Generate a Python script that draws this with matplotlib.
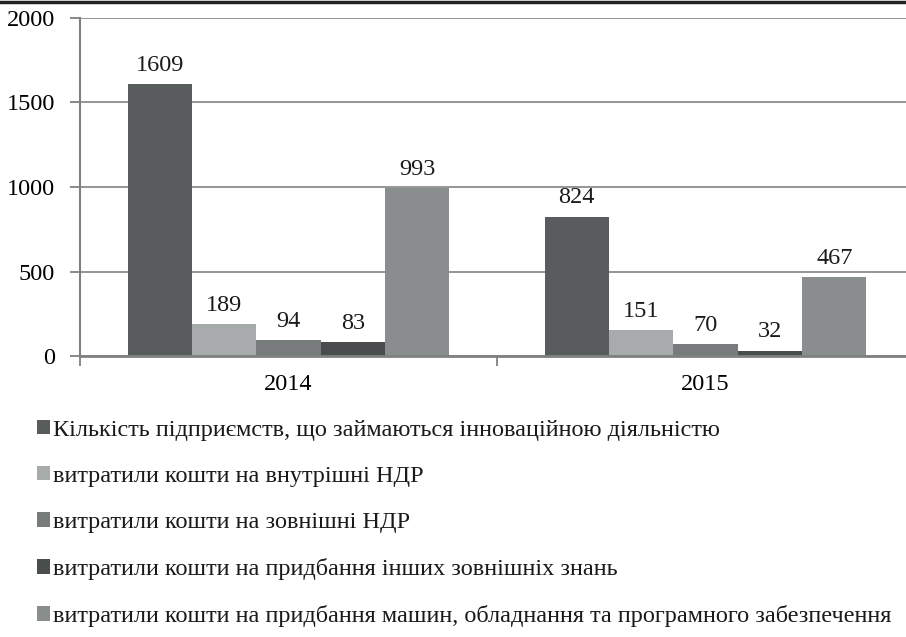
import numpy as np
import matplotlib.pyplot as plt
from matplotlib.patches import Patch

plt.rcParams['font.family'] = ['Liberation Serif', 'DejaVu Serif']

years = ['2014', '2015']
series_names = [
    'Кількість підприємств, що займаються інноваційною діяльністю',
    'витратили кошти на внутрішні НДР',
    'витратили кошти на зовнішні НДР',
    'витратили кошти на придбання інших зовнішніх знань',
    'витратили кошти на придбання машин, обладнання та програмного забезпечення',
]
values = [
    [1609, 824],
    [189, 151],
    [94, 70],
    [83, 32],
    [993, 467],
]
colors = ['#595c5c', '#a8abab', '#787b7c', '#4a4d4e', '#8a8d8d']

W, H = 906, 637
fig = plt.figure(figsize=(W / 100, H / 100), dpi=100)
ax = fig.add_axes([80 / W, 1 - 356 / H, 834 / W, 338 / H])

fs = 17.5
n = len(series_names)
bw = 0.772 / n
x = np.arange(len(years))
for i in range(n):
    pos = x - 0.386 + bw * (i + 0.5)
    bars = ax.bar(pos, values[i], width=bw, color=colors[i], zorder=3)
    for b, v in zip(bars, values[i]):
        ax.annotate(str(v), (b.get_x() + b.get_width() / 2, v),
                    xytext=(0, 6), textcoords='offset points',
                    ha='center', va='bottom', fontsize=fs, color='#1a1a1a')

ax.set_xlim(-0.5, 1.5)
ax.set_ylim(0, 2000)
ax.set_yticks([0, 500, 1000, 1500, 2000])
ax.yaxis.grid(True, color='#8c8c8c', linewidth=1.3, zorder=0)
ax.set_axisbelow(True)

ax.set_xticks([-0.5, 0.5, 1.5])
ax.set_xticklabels([])
ax.set_xticks(x, minor=True)
ax.set_xticklabels(years, minor=True)
ax.tick_params(axis='x', which='minor', length=0, pad=13, labelsize=fs)
ax.tick_params(axis='x', which='major', length=7, width=1.3, color='#808080')
ax.tick_params(axis='y', length=7, width=1.3, color='#808080', labelsize=fs, pad=11)

for s in ['top', 'right']:
    ax.spines[s].set_visible(False)
ax.spines['left'].set_color('#808080')
ax.spines['left'].set_linewidth(1.5)
ax.spines['bottom'].set_color('#808080')
ax.spines['bottom'].set_linewidth(2)
ax.spines['bottom'].set_zorder(4)

handles = [Patch(facecolor=c) for c in colors]
fig.legend(handles, series_names, loc='upper left',
           bbox_to_anchor=(27 / W, 1 - 410 / H), frameon=False,
           fontsize=fs, handlelength=0.55, handleheight=0.55,
           handletextpad=0.12, labelspacing=1.03, borderaxespad=0,
           labelcolor='#1a1a1a')

# thick rule along the top of the picture
fig.add_artist(plt.Line2D([0, 1], [1 - 1.5 / H, 1 - 1.5 / H], color='#222222',
                          linewidth=2.5, transform=fig.transFigure))

fig.savefig('out.png', dpi=100)
